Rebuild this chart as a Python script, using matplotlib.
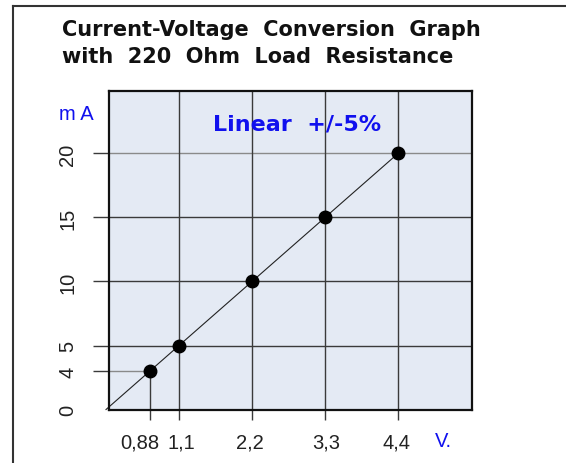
import numpy as np
import matplotlib
matplotlib.use('Agg')
import matplotlib.pyplot as plt
from matplotlib.lines import Line2D
from matplotlib.transforms import ScaledTranslation

voltage = [0, 0.88, 1.1, 2.2, 3.3, 4.4]
current = [0, 4, 5, 10, 15, 20]
x_ticks = [0.88, 1.1, 2.2, 3.3, 4.4]
x_tick_labels = ['0,88', '1,1', '2,2', '3,3', '4,4']
y_ticks = [0, 4, 5, 10, 15, 20]
y_tick_labels = ['0', '4', '5', '10', '15', '20']
title_lines = ['Current-Voltage  Conversion  Graph', 'with  220  Ohm  Load  Resistance']
note_text = 'Linear  +/-5%'
x_unit = 'V.'
y_unit = 'm A'

BLUE = '#1010ee'
GRID = '#3a3a3a'
LIGHT = '#8a8a8a'


def make_scale(knot, knot_disp, end):
    r = knot_disp / knot
    s = (end - knot_disp) / (end - knot)

    def fwd(v):
        v = np.asarray(v, float)
        return np.where(v < knot, v * r, np.where(v < end, knot_disp + (v - knot) * s, v))

    def inv(u):
        u = np.asarray(u, float)
        return np.where(u < knot_disp, u / r, np.where(u < end, knot + (u - knot_disp) / s, u))
    return fwd, inv


W, H = 566, 464
fig = plt.figure(figsize=(W / 100, H / 100), dpi=100)
ax = fig.add_axes([109 / W, 1 - 411 / H, (472 - 109) / W, (411 - 92) / H])
ax.set_facecolor('#e4eaf4')
ax.set_xscale('function', functions=make_scale(0.88, 0.66, 1.1))
ax.set_yscale('function', functions=make_scale(4, 3, 5))
x0, x1 = 0.06, 5.515
y0, y1 = -0.05, 24.88
ax.set_xlim(x0, x1)
ax.set_ylim(y0, y1)

for sp in ax.spines.values():
    sp.set_linewidth(1.6)
    sp.set_color('#111111')
    sp.set_zorder(5)

# grid lines
for yv in current[2:]:
    ax.axhline(yv, color=LIGHT if yv == 20 else GRID, lw=1.0, zorder=1)
for xv in voltage[2:]:
    ax.axvline(xv, color=GRID, lw=1.0, zorder=1)
ax.plot([x0, voltage[1]], [current[1], current[1]], color=LIGHT, lw=1.0, zorder=1)
ax.plot([voltage[1], voltage[1]], [y0, current[1]], color=GRID, lw=1.0, zorder=1)

# data line and points
ax.plot(voltage, current, color='#222222', lw=0.8, zorder=3, clip_on=False)
ax.plot(voltage[1:], current[1:], 'o', color='black', ms=9, zorder=4)

tick_font = 'Liberation Sans'
ax.set_xticks(x_ticks)
ax.set_xticklabels(x_tick_labels, fontfamily=tick_font, fontsize=14.5, color='#222222')
ax.set_yticks(y_ticks)
ax.set_yticklabels(y_tick_labels, fontfamily=tick_font, fontsize=14.5, color='#222222',
                   rotation=90, va='center')
ax.tick_params(axis='x', length=7.5, width=1.0, color=GRID, pad=9)
ax.tick_params(axis='y', length=11.5, width=1.0, color=GRID, pad=11.5)
ax.xaxis.set_minor_locator(matplotlib.ticker.NullLocator())
ax.yaxis.set_minor_locator(matplotlib.ticker.NullLocator())
yt = ax.yaxis.get_major_ticks()
yt[0].tick1line.set_visible(False)
yt[1].tick1line.set_color(LIGHT)
yt[5].tick1line.set_color(LIGHT)

# small horizontal offsets of the x tick labels (px)
x_label_shift = [-10, 2, -2, 1, -2]
for lab, dx in zip(ax.get_xticklabels(), x_label_shift):
    lab.set_transform(lab.get_transform() + ScaledTranslation(dx / 100, 0, fig.dpi_scale_trans))

# texts
fig.text(62 / W, 1 - 36 / H, title_lines[0], fontsize=15, fontweight='bold',
         fontfamily='DejaVu Sans', ha='left', va='baseline', color='#111111')
fig.text(62 / W, 1 - 63 / H, title_lines[1], fontsize=15, fontweight='bold',
         fontfamily='DejaVu Sans', ha='left', va='baseline', color='#111111')
fig.text(297 / W, 1 - 125 / H, note_text, fontsize=16, fontweight='bold',
         fontfamily='DejaVu Sans', ha='center', va='center', color=BLUE)
fig.text(76 / W, 1 - 115 / H, y_unit, fontsize=14.5, fontfamily=tick_font,
         ha='center', va='center', color=BLUE)
fig.text(443 / W, 1 - 442 / H, x_unit, fontsize=14.5, fontfamily=tick_font,
         ha='center', va='center', color=BLUE)

# frame around the figure
fig.add_artist(Line2D([13 / W, 13 / W], [0, 1 - 7 / H], color='#333333', lw=1.5))
fig.add_artist(Line2D([13 / W, 1], [1 - 7 / H, 1 - 7 / H], color='#333333', lw=1.5))

fig.savefig('out.png', dpi=100)
